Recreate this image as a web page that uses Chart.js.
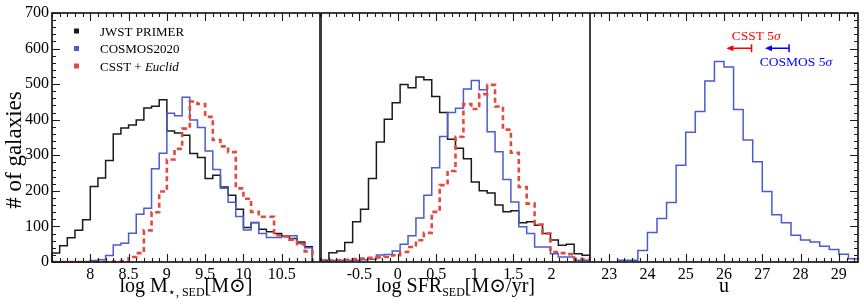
<!DOCTYPE html>
<html>
<head>
<meta charset="utf-8">
<script src="https://cdn.jsdelivr.net/npm/chart.js@4.4.1/dist/chart.umd.min.js"></script>
<style>
  html, body { margin: 0; padding: 0; background: #fff; overflow: hidden; }
  #wrap { position: relative; width: 864px; height: 306px; }
  .panel { position: absolute; top: 0; height: 306px; }
  .panel canvas { display: block; }
</style>
</head>
<body>
<div id="wrap">
  <div class="panel" style="left:0;width:321px"><canvas id="massChart" width="321" height="306"></canvas></div>
  <div class="panel" style="left:321px;width:269px"><canvas id="sfrChart" width="269" height="306"></canvas></div>
  <div class="panel" style="left:590px;width:274px"><canvas id="uChart" width="274" height="306"></canvas></div>
</div>
<script>
// stellar mass histograms, bins of 0.1 dex from 7.5
const massBinStart = 7.5;
const massBinWidth = 0.1;
const massJwst = [25, 46, 68, 89, 119, 212, 236, 285, 360, 377, 385, 399, 433, 438, 456, 368, 363, 356, 305, 294,
  235, 244, 211, 188, 148, 97, 111, 92, 85, 80, 73, 66, 56, 43];
const massCosmos = [0, 0, 0, 0, 0, 4, 6, 18, 48, 53, 81, 134, 151, 262, 306, 418, 411, 463, 399, 378,
  312, 260, 207, 168, 128, 90, 110, 80, 69, 69, 72, 74, 52, 40];
const massCsst = [0, 0, 0, 0, 0, 0, 0, 0, 1, 3, 14, 25, 89, 140, 198, 288, 318, 375, 451, 444,
  408, 343, 325, 309, 207, 178, 141, 127, 127, 75, 72, 63, 50, 30];

// SFR histograms, 34 bins between -1 and 2.5
const sfrBinStart = -1;
const sfrBinWidth = 3.5 / 34;
const sfrJwst = [5, 26, 31, 55, 113, 148, 235, 337, 401, 448, 499, 490, 520, 512, 465, 420, 345, 320, 290, 225,
  200, 194, 160, 141, 144, 110, 113, 103, 80, 62, 47, 50, 23, 19];
const sfrCosmos = [2, 4, 4, 4, 5, 6, 8, 20, 21, 31, 50, 74, 124, 188, 265, 353, 420, 432, 486, 510,
  484, 366, 310, 232, 169, 99, 80, 42, 42, 23, 14, 14, 5, 5];
const sfrCsst = [3, 4, 5, 6, 8, 10, 12, 13, 14, 19, 28, 42, 61, 82, 141, 216, 256, 352, 444, 430,
  472, 498, 437, 372, 307, 211, 164, 105, 80, 28, 25, 22, 9, 7];

// u-band magnitudes, bins of 0.25 mag from 23.25
const uBinStart = 23.25;
const uBinWidth = 0.25;
const uCosmos = [5, 5, 32, 83, 122, 167, 272, 365, 423, 509, 564, 548, 429, 343, 282, 198, 133, 110, 75, 62,
  56, 44, 35, 22, 9];

// 5 sigma depths (arrow tail) and arrow tips, in mag
const depthNames = ['CSST', 'COSMOS'];
const depthMag = [26.72, 27.70];
const depthTip = [26.06, 27.07];

// axes
const countTicks = [0, 100, 200, 300, 400, 500, 600, 700];
const massTicks = [8, 8.5, 9, 9.5, 10, 10.5];
const sfrTicks = [-0.5, 0, 0.5, 1, 1.5, 2];
const uTicks = [23, 24, 25, 26, 27, 28, 29];

const serif = "'Liberation Serif', 'Times New Roman', 'DejaVu Serif', serif";
const ink = '#1a1a1a';
const jwstColor = '#1a1a1a';
const cosmosColor = '#4b5bd0';
const csstColor = '#e4493f';

function stepPoints(start, width, counts) {
  const pts = [{ x: start, y: 0 }];
  counts.forEach((c, i) => pts.push({ x: start + i * width, y: c }));
  pts.push({ x: start + counts.length * width, y: 0 });
  return pts;
}

function histDataset(label, pts, color, dashed, order) {
  return {
    label, data: pts, borderColor: color, backgroundColor: color,
    borderWidth: dashed ? 2.6 : 1.5, borderDash: dashed ? [5, 3.5] : [],
    stepped: true, pointRadius: 0, fill: false, tension: 0, clip: 1, order,
    borderJoinStyle: 'miter', borderCapStyle: 'butt',
  };
}

function drawRich(ctx, parts, x, baseY, center) {
  const fontOf = p => `${p.italic ? 'italic ' : ''}${p.size}px ${serif}`;
  let total = 0;
  parts.forEach(p => { ctx.font = fontOf(p); p.w = ctx.measureText(p.text).width; total += p.w; });
  let cx = center ? x - total / 2 : x;
  ctx.textAlign = 'left';
  ctx.textBaseline = 'alphabetic';
  parts.forEach(p => {
    ctx.font = fontOf(p);
    ctx.fillText(p.text, cx, baseY + (p.dy || 0));
    cx += p.w;
  });
}

const panelFrame = {
  id: 'panelFrame',
  afterDraw(chart, args, o) {
    const { ctx, chartArea: a } = chart;
    const xs = chart.scales.x, ys = chart.scales.y;
    ctx.save();

    // inward ticks
    ctx.strokeStyle = ink;
    ctx.lineWidth = 1.1;
    ctx.beginPath();
    for (let i = Math.ceil(o.xMin / o.xMinor - 1e-6); i * o.xMinor <= o.xMax + 1e-6; i++) {
      const v = i * o.xMinor;
      const len = o.xMajor.some(m => Math.abs(m - v) < 1e-6) ? 8 : 4;
      const px = Math.round(xs.getPixelForValue(v)) + 0.5;
      ctx.moveTo(px, a.bottom); ctx.lineTo(px, a.bottom - len);
      ctx.moveTo(px, a.top); ctx.lineTo(px, a.top + len);
    }
    for (let v = 0; v <= 700; v += 20) {
      const len = v % 100 === 0 ? 8 : 4;
      const py = Math.round(ys.getPixelForValue(v)) + 0.5;
      if (o.yLeft) { ctx.moveTo(a.left, py); ctx.lineTo(a.left + len, py); }
      if (o.yRight) { ctx.moveTo(a.right, py); ctx.lineTo(a.right - len, py); }
    }
    ctx.stroke();

    ctx.lineWidth = 1.7;
    ctx.strokeRect(a.left, a.top, a.right - a.left, a.bottom - a.top);

    // x title
    ctx.fillStyle = '#000';
    drawRich(ctx, o.xTitle, (a.left + a.right) / 2, 292, true);

    // y title
    if (o.yTitle) {
      ctx.save();
      ctx.translate(15, 150);
      ctx.rotate(-Math.PI / 2);
      ctx.font = `23px ${serif}`;
      ctx.textAlign = 'center';
      ctx.textBaseline = 'middle';
      ctx.fillText(o.yTitle, 0, 0);
      ctx.restore();
    }

    // legend
    if (o.legend) {
      o.legend.forEach((item, i) => {
        const cy = 31 + i * 17.5;
        ctx.fillStyle = item.color;
        ctx.fillRect(74, cy - 2.5, 5, 5);
        ctx.fillStyle = '#000';
        drawRich(ctx, item.parts, 100, cy + 4.5, false);
      });
    }

    // depth limits
    if (o.limits) {
      o.limits.forEach(l => {
        const y = ys.getPixelForValue(l.count);
        const x0 = xs.getPixelForValue(l.from), x1 = xs.getPixelForValue(l.to);
        ctx.strokeStyle = l.color; ctx.fillStyle = l.color; ctx.lineWidth = 1.5;
        ctx.beginPath();
        ctx.moveTo(x0, y); ctx.lineTo(x1 + 5, y);
        ctx.moveTo(x0, y - 4); ctx.lineTo(x0, y + 4);
        ctx.stroke();
        ctx.beginPath();
        ctx.moveTo(x1, y); ctx.lineTo(x1 + 7, y - 3); ctx.lineTo(x1 + 7, y + 3);
        ctx.closePath(); ctx.fill();
        drawRich(ctx, [{ text: l.name + ' 5', size: 13.5 }, { text: 'σ', size: 13.5, italic: true }],
          xs.getPixelForValue(l.labelX), ys.getPixelForValue(l.labelY) + 4.5, true);
      });
    }
    ctx.restore();
  }
};

function xScale(min, max, ticks) {
  return {
    type: 'linear', min, max,
    afterBuildTicks: s => { s.ticks = ticks.map(v => ({ value: v })); },
    afterFit: s => { s.height = 44; },
    grid: { display: false, drawTicks: false },
    border: { display: false },
    ticks: { color: '#000', font: { family: serif, size: 16 }, padding: 3, maxRotation: 0, autoSkip: false,
      callback: v => String(v) },
  };
}

function yScale(show) {
  return {
    type: 'linear', min: 0, max: 700, display: show,
    afterBuildTicks: s => { s.ticks = countTicks.map(v => ({ value: v })); },
    afterFit: s => { s.width = show ? 52 : 0; },
    grid: { display: false, drawTicks: false },
    border: { display: false },
    ticks: { color: '#000', font: { family: serif, size: 16 }, padding: 3, callback: v => String(v) },
  };
}

function makeChart(id, datasets, xMin, xMax, xTicks, frame, padding, showY) {
  return new Chart(document.getElementById(id), {
    type: 'line',
    data: { datasets },
    options: {
      responsive: false, animation: false, events: [],
      layout: { padding },
      scales: { x: xScale(xMin, xMax, xTicks), y: yScale(showY) },
      plugins: { legend: { display: false }, tooltip: { enabled: false }, panelFrame: frame },
    },
    plugins: [panelFrame],
  });
}

makeChart('massChart', [
  histDataset('JWST PRIMER', stepPoints(massBinStart, massBinWidth, massJwst), jwstColor, false, 2),
  histDataset('COSMOS2020', stepPoints(massBinStart, massBinWidth, massCosmos), cosmosColor, false, 1),
  histDataset('CSST + Euclid', stepPoints(massBinStart, massBinWidth, massCsst), csstColor, true, 0),
], 7.5, 11, massTicks, {
  xMin: 7.5, xMax: 11, xMinor: 0.1, xMajor: massTicks, yLeft: true,
  xTitle: [{ text: 'log ', size: 20 }, { text: 'M', size: 20 }, { text: '⋆, SED', size: 12, dy: 4 }, { text: '[M⊙]', size: 20 }],
  yTitle: '# of galaxies',
  legend: [
    { color: jwstColor, parts: [{ text: 'JWST PRIMER', size: 13 }] },
    { color: cosmosColor, parts: [{ text: 'COSMOS2020', size: 13 }] },
    { color: csstColor, parts: [{ text: 'CSST + ', size: 13 }, { text: 'Euclid', size: 13, italic: true }] },
  ],
}, { top: 13, right: 1, left: 0, bottom: 0 }, true);

makeChart('sfrChart', [
  histDataset('JWST PRIMER', stepPoints(sfrBinStart, sfrBinWidth, sfrJwst), jwstColor, false, 2),
  histDataset('COSMOS2020', stepPoints(sfrBinStart, sfrBinWidth, sfrCosmos), cosmosColor, false, 1),
  histDataset('CSST + Euclid', stepPoints(sfrBinStart, sfrBinWidth, sfrCsst), csstColor, true, 0),
], -1, 2.5, sfrTicks, {
  xMin: -1, xMax: 2.5, xMinor: 0.1, xMajor: sfrTicks,
  xTitle: [{ text: 'log ', size: 20 }, { text: 'SFR', size: 20 }, { text: 'SED', size: 12, dy: 4 }, { text: '[M⊙/yr]', size: 20 }],
}, { top: 13, right: 0, left: 0, bottom: 0 }, false);

makeChart('uChart', [
  histDataset('COSMOS2020', stepPoints(uBinStart, uBinWidth, uCosmos), cosmosColor, false, 1),
], 22.5, 29.5, uTicks, {
  xMin: 22.5, xMax: 29.5, xMinor: 0.2, xMajor: uTicks, yRight: true,
  xTitle: [{ text: 'u', size: 20 }],
  limits: [
    { name: depthNames[0], from: depthMag[0], to: depthTip[0], count: 601, color: '#ff0000', labelX: 26.84, labelY: 638 },
    { name: depthNames[1], from: depthMag[1], to: depthTip[1], count: 601, color: '#0000ff', labelX: 27.88, labelY: 563 },
  ],
}, { top: 13, right: 6, left: 0, bottom: 0 }, false);
</script>
</body>
</html>
